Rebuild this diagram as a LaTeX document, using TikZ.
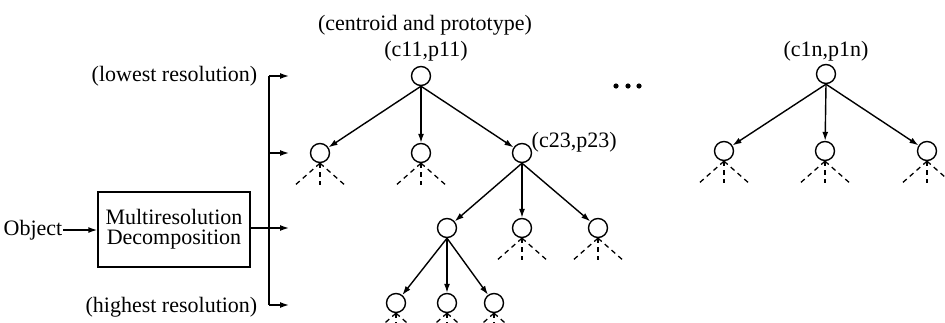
\documentclass[tikz,border=0pt]{standalone}
\usepackage{fontspec}
\setmainfont{Liberation Serif}
\usetikzlibrary{arrows.meta}
\begin{document}
\begin{tikzpicture}[x=1pt,y=-1pt,
  font=\fontsize{22}{23}\selectfont,
  every path/.style={line width=1.4pt},
  tnode/.style={circle,draw,line width=1.4pt,minimum size=19pt,inner sep=0pt},
  arr/.style={-{Latex[length=9pt,width=6pt]}},
  dsh/.style={dashed,dash pattern=on 5pt off 4pt,line width=1.3pt},
  lbl/.style={inner sep=0pt}]
\useasboundingbox (0,0) rectangle (945,322);
% left part
\node[lbl,anchor=west] (obj) at (3,230) {Object};
\node[draw,line width=1.4pt,align=center,inner sep=0pt,minimum width=152pt,minimum height=75pt,font=\fontsize{22}{20}\selectfont] (box) at (174,229.5) {Multiresolution\\Decomposition};
\node[lbl,anchor=east] (low) at (258,76) {(lowest resolution)};
\node[lbl,anchor=east] (high) at (258,307) {(highest resolution)};
\coordinate (ba) at (269,76);
\coordinate (bb) at (269,305);
\coordinate (e1) at (289,76);
\coordinate (e2) at (289,153);
\coordinate (e3) at (289,228);
\coordinate (e4) at (289,305);
\draw[arr] (obj.east) -- (box.west |- obj.east);
\draw (ba) -- (bb);
\draw[arr] (ba) -- (e1);
\draw[arr] (269,153) -- (e2);
\draw[arr] (box.east |- e3) -- (e3);
\draw[arr] (bb) -- (e4);
% tree 1
\node[tnode] (r) at (421,76) {};
\node[lbl,anchor=south] (rl) at (426,62) {(c11,p11)};
\node[lbl] (cp) at (425,25) {(centroid and prototype)};
\node[tnode] (a1) at (320,153) {};
\node[tnode] (a2) at (421,153) {};
\node[tnode] (a3) at (522,153) {};
\node[lbl,anchor=west] (a3l) at (531,142) {(c23,p23)};
\node[tnode] (b1) at (447,228) {};
\node[tnode] (b2) at (522,228) {};
\node[tnode] (b3) at (598,228) {};
\node[tnode] (c1) at (396,303) {};
\node[tnode] (c2) at (447,303) {};
\node[tnode] (c3) at (494,303) {};
\foreach \s/\t in {r/a1,r/a2,r/a3,a3/b1,a3/b2,a3/b3,b1/c1,b1/c2,b1/c3}
  \draw[arr] (\s.south) -- (\t);
% tree n
\node[tnode] (n) at (826,74) {};
\node[lbl,anchor=south] (nl) at (826,62) {(c1n,p1n)};
\node[tnode] (n1) at (724,151) {};
\node[tnode] (n2) at (825,151) {};
\node[tnode] (n3) at (927,151) {};
\foreach \t in {n1,n2,n3}
  \draw[arr] (n.south) -- (\t);
% dashed stubs
\foreach \m in {a1,a2,b2,b3,n1,n2,n3,c1,c2,c3}{
  \draw[dsh] (\m.south) -- ++(-25,22);
  \draw[dsh] (\m.south) -- ++(0,22);
  \draw[dsh] (\m.south) -- ++(25,22);
}
% dots
\foreach \x in {616,628,639} \fill (\x,86) circle (2.6pt);
\end{tikzpicture}
\end{document}
